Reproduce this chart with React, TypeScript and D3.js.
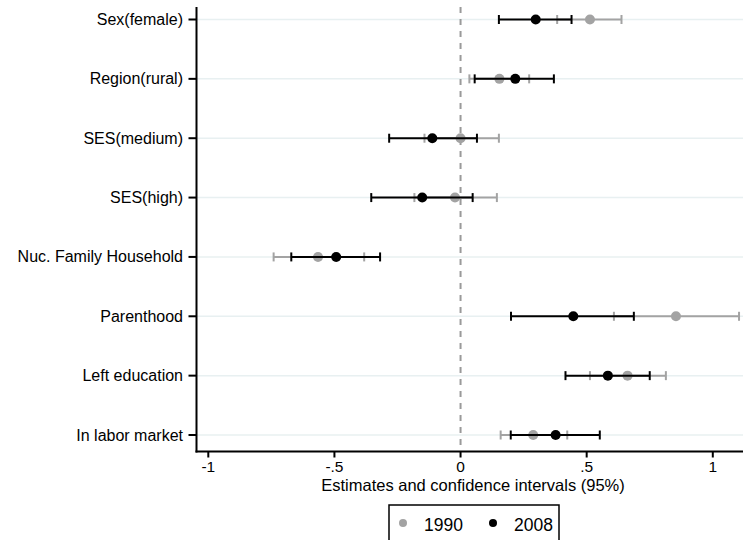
import * as d3 from 'd3';

// Coefficient estimates with 95% confidence intervals
const categories = [
  'Sex(female)',
  'Region(rural)',
  'SES(medium)',
  'SES(high)',
  'Nuc. Family Household',
  'Parenthood',
  'Left education',
  'In labor market',
];

const est1990 = [0.513, 0.154, 0.0, -0.022, -0.565, 0.854, 0.662, 0.288];
const lo1990 = [0.383, 0.035, -0.143, -0.183, -0.741, 0.608, 0.513, 0.159];
const hi1990 = [0.638, 0.272, 0.152, 0.144, -0.382, 1.104, 0.814, 0.423];

const est2008 = [0.298, 0.217, -0.112, -0.152, -0.493, 0.447, 0.584, 0.377];
const lo2008 = [0.152, 0.056, -0.283, -0.354, -0.671, 0.2, 0.416, 0.199];
const hi2008 = [0.44, 0.37, 0.065, 0.048, -0.319, 0.687, 0.75, 0.552];

const xTicks = [-1, -0.5, 0, 0.5, 1];
const seriesNames = ['1990', '2008'];

const W = 743;
const H = 540;
const FONT = '"Liberation Sans", Arial, sans-serif';
const GRAY = '#a3a3a3';
const BLACK = '#000';

const plot = { left: 196.5, right: 743, top: 7, bottom: 451.5 };

const fmtTick = (v: number) => {
  if (v === 0) return '0';
  return String(v).replace(/^(-?)0\./, '$1.');
};

export default function App() {
  const x = d3.scaleLinear().domain([-1, 1]).range([208.3, 712.8]);
  const y = d3.scalePoint<string>().domain(categories).range([19.5, 435]);

  const series = [
    { name: seriesNames[0], est: est1990, lo: lo1990, hi: hi1990, color: GRAY },
    { name: seriesNames[1], est: est2008, lo: lo2008, hi: hi2008, color: BLACK },
  ];

  const cap = 4.5;
  const legendX = 389;
  const legendY = 505;

  return (
    <svg
      width={W}
      height={H}
      style={{ position: 'absolute', left: 0, top: 0, background: '#fff' }}
      fontFamily={FONT}
    >
      {/* grid lines */}
      {categories.map(c => (
        <line key={'g' + c} x1={plot.left} x2={plot.right} y1={y(c)} y2={y(c)}
          stroke="#e8f0f1" strokeWidth={1.5} />
      ))}

      {/* zero reference line */}
      <line x1={x(0)} x2={x(0)} y1={plot.top} y2={plot.bottom}
        stroke="#9a9a9a" strokeWidth={2} strokeDasharray="6,6" />

      {/* error bars and points */}
      {series.map(s => (
        <g key={s.name}>
          {categories.map((c, i) => {
            const cy = y(c) ?? 0;
            return (
              <g key={c}>
                <line x1={x(s.lo[i])} x2={x(s.hi[i])} y1={cy} y2={cy} stroke={s.color} strokeWidth={2} />
                <line x1={x(s.lo[i])} x2={x(s.lo[i])} y1={cy - cap} y2={cy + cap} stroke={s.color} strokeWidth={2} />
                <line x1={x(s.hi[i])} x2={x(s.hi[i])} y1={cy - cap} y2={cy + cap} stroke={s.color} strokeWidth={2} />
                <circle cx={x(s.est[i])} cy={cy} r={5} fill={s.color} />
              </g>
            );
          })}
        </g>
      ))}

      {/* y axis */}
      <line x1={plot.left} x2={plot.left} y1={plot.top} y2={plot.bottom + 1} stroke="#000" strokeWidth={2} />
      {categories.map(c => (
        <g key={'y' + c}>
          <line x1={plot.left - 8} x2={plot.left} y1={y(c)} y2={y(c)} stroke="#000" strokeWidth={2} />
          <text x={183} y={(y(c) ?? 0) + 5.5} textAnchor="end" fontSize={16} fill="#000">{c}</text>
        </g>
      ))}

      {/* x axis */}
      <line x1={plot.left - 1} x2={plot.right} y1={plot.bottom} y2={plot.bottom} stroke="#000" strokeWidth={2} />
      {xTicks.map(t => (
        <g key={'x' + t}>
          <line x1={x(t)} x2={x(t)} y1={plot.bottom} y2={plot.bottom + 6} stroke="#000" strokeWidth={2} />
          <text x={x(t)} y={472} textAnchor="middle" fontSize={15.5} fill="#000">{fmtTick(t)}</text>
        </g>
      ))}
      <text x={473} y={490.5} textAnchor="middle" fontSize={16.5} fill="#000">
        Estimates and confidence intervals (95%)
      </text>

      {/* legend */}
      <rect x={legendX} y={legendY} width={170} height={42} fill="#fff" stroke="#000" strokeWidth={1.5} />
      {series.map((s, i) => (
        <g key={'l' + s.name} transform={`translate(${legendX + 14 + i * 90},${legendY + 18})`}>
          <circle cx={0} cy={0} r={4} fill={s.color} />
          <text x={21} y={8} fontSize={17.5} fill="#000">{s.name}</text>
        </g>
      ))}
    </svg>
  );
}
